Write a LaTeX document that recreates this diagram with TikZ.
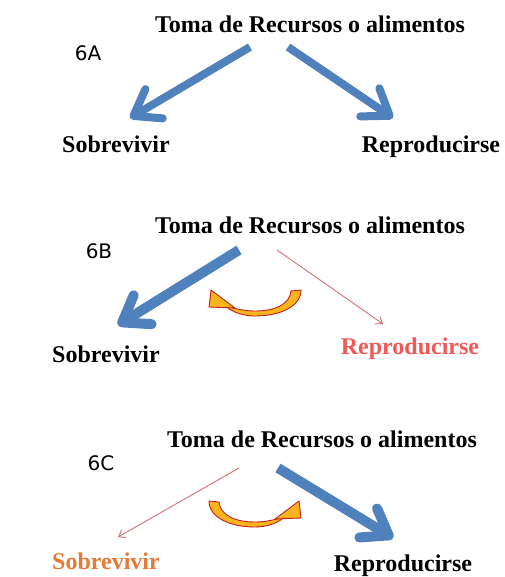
\documentclass[tikz,border=0pt]{standalone}
\usepackage{fontspec}
\setmainfont{Liberation Serif}
\newfontfamily\tagfont{DejaVu Sans}
\usetikzlibrary{arrows.meta}
\definecolor{officeblue}{RGB}{79,129,189}
\definecolor{thinred}{RGB}{214,110,115}
\definecolor{labelred}{RGB}{243,88,88}
\definecolor{labelorange}{RGB}{228,122,55}
\definecolor{swapfill}{RGB}{250,180,30}
\definecolor{swapline}{RGB}{190,35,30}

\begin{document}
\begin{tikzpicture}[
    x=1pt, y=-1pt,
    title/.style={font=\bfseries\fontsize{24}{28}\selectfont, anchor=base, inner sep=0pt},
    goal/.style={font=\bfseries\fontsize{24}{28}\selectfont, anchor=base, inner sep=0pt},
    tag/.style={font=\tagfont\fontsize{20}{24}\selectfont, anchor=base, inner sep=0pt},
    strong/.style={officeblue, line width=#1, -{Straight Barb[length=24pt,width=34pt,round]}},
    weak/.style={thinred, line width=0.9pt, -{Straight Barb[length=6pt,width=9pt]}},
    swaparrow/.pic={
      \filldraw[swapfill, draw=swapline, line width=0.9pt, line join=round]
        (36,-9) -- (46,-10) .. controls (46,6) and (26,16) .. (0,16)
        .. controls (-12,16) and (-22,12) .. (-27,8) -- (-31,5)
        .. controls (-20,9) and (-10,11) .. (0,11)
        .. controls (22,11) and (35,3) .. cycle;
      \filldraw[swapfill, draw=swapline, line width=0.9pt, line join=round]
        (-44,-10) -- (-20,8) -- (-46,7) -- cycle;
    },
]
\useasboundingbox (0,0) rectangle (504,577);

% 6A
\node[title] (topA) at (310,33) {Toma de Recursos o alimentos};
\node[tag] (tagA) at (88,61) {6A};
\node[goal] (surviveA) at (116,153) {Sobrevivir};
\node[goal] (breedA) at (431,153) {Reproducirse};
\coordinate (outAl) at (250,47);
\coordinate (outAr) at (288,47);
\coordinate (inAl) at (130,118);
\coordinate (inAr) at (393,118);
\draw[strong=8pt] (outAl) -- (inAl);
\draw[strong=8pt] (outAr) -- (inAr);

% 6B
\node[title] (topB) at (310,233) {Toma de Recursos o alimentos};
\node[tag] (tagB) at (99,258) {6B};
\node[goal] (surviveB) at (106,362) {Sobrevivir};
\node[goal, labelred] (breedB) at (410,354) {Reproducirse};
\coordinate (outBl) at (239,250);
\coordinate (outBr) at (277,250);
\coordinate (inBl) at (118,325);
\coordinate (inBr) at (383,324);
\draw[strong=10pt] (outBl) -- (inBl);
\draw[weak] (outBr) -- (inBr);
\pic at (255,300) {swaparrow};

% 6C
\node[title] (topC) at (322,447) {Toma de Recursos o alimentos};
\node[tag] (tagC) at (101,470) {6C};
\node[goal, labelorange] (surviveC) at (106,569) {Sobrevivir};
\node[goal] (breedC) at (403,571) {Reproducirse};
\coordinate (outCl) at (239,468);
\coordinate (outCr) at (278,468);
\coordinate (inCl) at (118,537);
\coordinate (inCr) at (393,538);
\draw[weak] (outCl) -- (inCl);
\draw[strong=10pt] (outCr) -- (inCr);
\pic[xscale=-1] at (255,511) {swaparrow};
\end{tikzpicture}
\end{document}
